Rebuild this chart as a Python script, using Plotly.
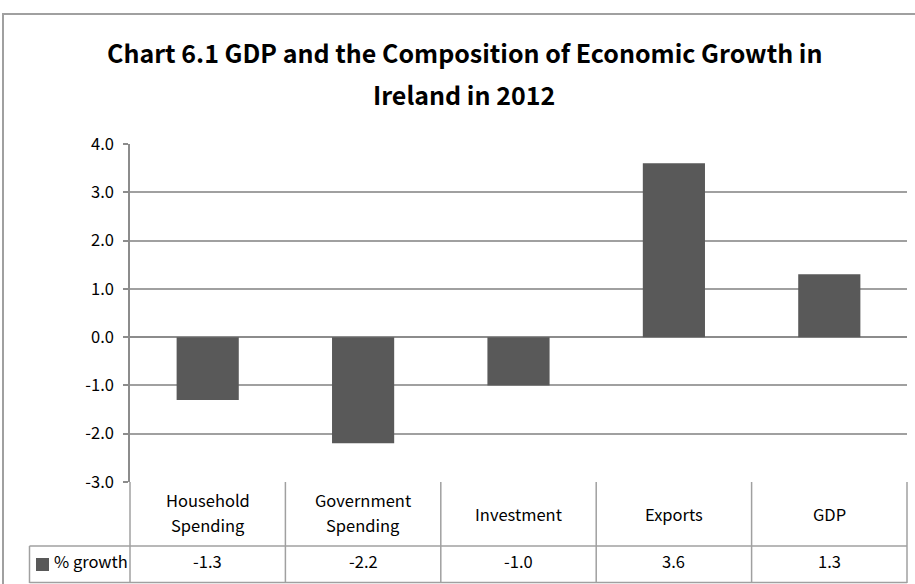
import plotly.graph_objects as go

categories = ["Household<br>Spending", "Government<br>Spending", "Investment", "Exports", "GDP"]
values = [-1.3, -2.2, -1.0, 3.6, 1.3]
series_name = "% growth"
y_ticks = [-3, -2, -1, 0, 1, 2, 3, 4]
title_lines = ["Chart 6.1 GDP and the Composition of Economic Growth in", "Ireland in 2012"]

W, H = 915, 584
L, R, T, B = 130, 8, 144, 102
PW, PH = W - L - R, H - T - B

def px_x(px):
    return (px - L) / PW

def px_y(py):
    return (H - B - py) / PH

FONT = "Noto Sans CJK SC, Lato, sans-serif"
BAR = "#595959"
GRID = "#a0a0a0"
LINE = "#8c8c8c"
n = len(categories)
xs = list(range(n))

fig = go.Figure()
fig.add_trace(go.Bar(x=xs, y=values, name=series_name, marker=dict(color=BAR, line=dict(width=0)),
                     width=0.4, showlegend=False, hoverinfo="skip"))

shapes = []
for i in range(n + 1):
    xb = i / n
    shapes.append(dict(type="line", xref="paper", yref="paper",
                       x0=xb, x1=xb, y0=0, y1=px_y(583),
                       line=dict(color=GRID, width=1.5)))
shapes.append(dict(type="line", xref="paper", yref="paper", x0=px_x(29.5), x1=1,
                   y0=px_y(546), y1=px_y(546), line=dict(color=GRID, width=1.5)))
shapes.append(dict(type="line", xref="paper", yref="paper", x0=px_x(29.5), x1=1,
                   y0=px_y(582.5), y1=px_y(582.5), line=dict(color=GRID, width=1.5)))
shapes.append(dict(type="line", xref="paper", yref="paper", x0=px_x(29.5), x1=px_x(29.5),
                   y0=px_y(546), y1=px_y(583), line=dict(color=GRID, width=1.5)))
shapes.append(dict(type="rect", xref="paper", yref="paper", x0=px_x(36), x1=px_x(49),
                   y0=px_y(558), y1=px_y(571), fillcolor=BAR, line=dict(width=0)))
shapes.append(dict(type="rect", xref="paper", yref="paper", x0=px_x(3), x1=px_x(930),
                   y0=px_y(600), y1=px_y(14), fillcolor="rgba(0,0,0,0)",
                   line=dict(color="#a0a0a0", width=2)))

TF = dict(family=FONT, size=16.5, color="#000")
annotations = []
for i, (c, v) in enumerate(zip(categories, values)):
    parts = c.split("<br>")
    if len(parts) == 1:
        centers = [514]
    else:
        centers = [500, 525]
    for part, cy in zip(parts, centers):
        annotations.append(dict(x=i, y=px_y(cy), xref="x", yref="paper", text=part, showarrow=False,
                                xanchor="center", yanchor="middle", font=TF))
    annotations.append(dict(x=i, y=px_y(561), xref="x", yref="paper", text=f"{v:.1f}", showarrow=False,
                            xanchor="center", yanchor="middle", font=TF))
annotations.append(dict(x=px_x(52), y=px_y(561), xref="paper", yref="paper", text=series_name,
                        showarrow=False, xanchor="left", yanchor="middle", font=TF))
for line, cy in zip(title_lines, [52, 94]):
    annotations.append(dict(x=px_x(464), y=px_y(cy), xref="paper", yref="paper", text=f"<b>{line}</b>",
                            showarrow=False, xanchor="center", yanchor="middle",
                            font=dict(family=FONT, size=25, color="#000")))

fig.update_layout(
    width=W, height=H, margin=dict(l=L, r=R, t=T, b=B, pad=0),
    paper_bgcolor="white", plot_bgcolor="white",
    xaxis=dict(range=[-0.5, n - 0.5], showticklabels=False, showgrid=False, zeroline=False,
               showline=False, ticks=""),
    yaxis=dict(range=[-3, 4], tickvals=y_ticks, ticktext=[f"{t:.1f}" for t in y_ticks],
               showgrid=True, gridcolor=GRID,
               gridwidth=1.5, zeroline=True, zerolinecolor=LINE, zerolinewidth=1.5,
               showline=True, linecolor=LINE, linewidth=1.5, ticks="outside", ticklen=5,
               tickcolor=LINE, tickwidth=1.5, ticklabelstandoff=6,
               tickfont=TF),
    shapes=shapes, annotations=annotations, bargap=0.6,
)
fig.write_html("out.html")
